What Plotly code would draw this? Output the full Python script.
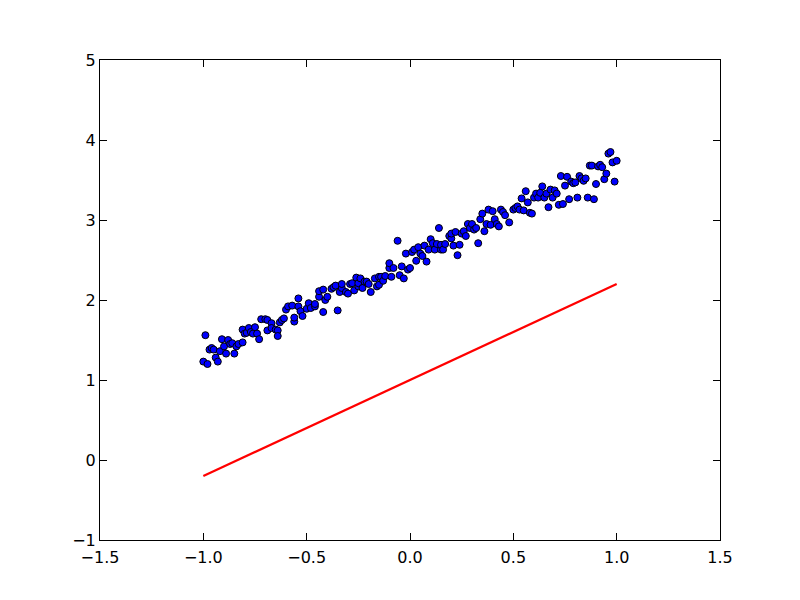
import plotly.graph_objects as go

x_vals = [
    -0.99, -1.00, -0.98, -0.97, -0.96, -0.95, -0.94, -0.93, -0.92, -0.91,
    -0.90, -0.89, -0.88, -0.87, -0.86, -0.85, -0.84, -0.83, -0.81, -0.81,
    -0.80, -0.79, -0.78, -0.77, -0.76, -0.75, -0.74, -0.73, -0.72, -0.70,
    -0.69, -0.69, -0.67, -0.67, -0.65, -0.64, -0.64, -0.63, -0.62, -0.61,
    -0.60, -0.59, -0.57, -0.56, -0.56, -0.54, -0.54, -0.53, -0.52,
    -0.50, -0.49, -0.48, -0.46, -0.46, -0.44, -0.44, -0.42, -0.42, -0.41,
    -0.40, -0.38, -0.37, -0.36, -0.35, -0.34, -0.33, -0.33, -0.31, -0.30,
    -0.29, -0.28, -0.27, -0.26, -0.25, -0.25, -0.24, -0.23, -0.22, -0.21,
    -0.20, -0.19, -0.17, -0.16, -0.15, -0.15, -0.14, -0.13, -0.12, -0.10,
    -0.10, -0.09, -0.08, -0.06, -0.05, -0.04, -0.03, -0.02, -0.01, 0.00,
    0.01, 0.02, 0.03, 0.04, 0.05, 0.06, 0.07, 0.08, 0.09, 0.10,
    0.11, 0.12, 0.13, 0.14, 0.15, 0.15, 0.16, 0.17, 0.19, 0.20,
    0.20, 0.21, 0.22, 0.23, 0.24, 0.25, 0.26, 0.27, 0.28, 0.29,
    0.30, 0.31, 0.32, 0.33, 0.34, 0.35, 0.36, 0.37, 0.38, 0.39,
    0.40, 0.41, 0.42, 0.43, 0.44, 0.45, 0.46, 0.48,
    0.50, 0.51, 0.52, 0.53, 0.54, 0.55, 0.56, 0.57, 0.58, 0.59,
    0.60, 0.61, 0.62, 0.63, 0.64, 0.65, 0.66, 0.67, 0.68, 0.69,
    0.70, 0.71, 0.72, 0.73, 0.74, 0.75, 0.76, 0.77, 0.78, 0.79,
    0.80, 0.81, 0.82, 0.83, 0.84, 0.85, 0.86, 0.87, 0.88, 0.89,
    0.90, 0.91, 0.92, 0.93, 0.94, 0.95, 0.96, 0.97, 0.98, 0.99, 1.00,
]
y_vals = [
    1.56, 1.23, 1.20, 1.38, 1.40, 1.38, 1.28, 1.23, 1.36, 1.51,
    1.42, 1.33, 1.50, 1.45, 1.46, 1.33, 1.42, 1.45, 1.47, 1.63,
    1.58, 1.59, 1.65, 1.60, 1.58, 1.66, 1.58, 1.51, 1.76, 1.76,
    1.62, 1.75, 1.71, 1.65, 1.63, 1.62, 1.55, 1.72, 1.75, 1.77,
    1.88, 1.92, 1.93, 1.73, 1.78, 1.92, 2.02, 1.86, 1.80,
    1.89, 1.96, 1.90, 1.92, 1.95, 2.04, 2.11, 2.13, 1.85, 2.00,
    2.04, 2.14, 2.16, 2.18, 1.87, 2.10, 2.15, 2.20, 2.10, 2.08,
    2.20, 2.21, 2.12, 2.28, 2.17, 2.21, 2.27, 2.15, 2.23, 2.23,
    2.20, 2.10, 2.27, 2.17, 2.19, 2.29, 2.29, 2.24, 2.30, 2.40,
    2.46, 2.29, 2.40, 2.74, 2.31, 2.42, 2.27, 2.58, 2.38, 2.40,
    2.60, 2.63, 2.49, 2.66, 2.58, 2.55, 2.68, 2.48, 2.63, 2.76,
    2.71, 2.63, 2.70, 2.90, 2.63, 2.69, 2.63, 2.70, 2.80, 2.77,
    2.83, 2.68, 2.85, 2.56, 2.69, 2.83, 2.86, 2.80, 2.95, 2.90,
    2.95, 2.88, 2.90, 2.71, 3.01, 3.08, 2.86, 2.95, 3.13, 2.94,
    3.11, 3.01, 2.95, 2.92, 3.13, 3.10, 3.06, 2.97,
    3.13, 3.15, 3.17, 3.13, 3.27, 3.12, 3.36, 3.22, 3.09, 3.08,
    3.28, 3.33, 3.28, 3.34, 3.42, 3.28, 3.33, 3.16, 3.38, 3.28,
    3.37, 3.33, 3.19, 3.55, 3.20, 3.43, 3.54, 3.26, 3.48, 3.46,
    3.47, 3.28, 3.55, 3.52, 3.49, 3.52, 3.28, 3.68, 3.68, 3.26,
    3.45, 3.67, 3.69, 3.66, 3.51, 3.58, 3.83, 3.85, 3.72, 3.48, 3.74,
]

line_x = [-1.0, 1.0]
line_y = [-0.2, 2.2]

x_ticks = [-1.5, -1.0, -0.5, 0.0, 0.5, 1.0, 1.5]
y_ticks = [-1, 0, 1, 2, 3, 4, 5]

fig = go.Figure()
fig.add_trace(go.Scatter(
    x=x_vals, y=y_vals, mode="markers",
    marker=dict(color="#0000ff", size=7, line=dict(color="black", width=1)),
    showlegend=False,
))
fig.add_trace(go.Scatter(
    x=line_x, y=line_y, mode="lines",
    line=dict(color="#ff0000", width=2.2),
    showlegend=False,
))

axis_common = dict(
    showgrid=False, zeroline=False, showline=True, linecolor="black", linewidth=1,
    mirror="ticks", ticks="inside", ticklen=7, tickcolor="black", tickwidth=1,
)
fig.update_xaxes(range=[-1.5, 1.5], tickvals=x_ticks,
                 ticktext=[f"{v:.1f}".replace("-", "\u2212") for v in x_ticks],
                 ticklabelstandoff=3,
                 **axis_common)
fig.update_yaxes(range=[-1, 5], tickvals=y_ticks,
                 ticktext=[str(v).replace("-", "\u2212") for v in y_ticks],
                 **axis_common)
fig.update_layout(
    width=800, height=600,
    margin=dict(l=92, r=88, t=52, b=68),
    paper_bgcolor="white", plot_bgcolor="white",
    font=dict(family="DejaVu Sans", size=16, color="black"),
)
fig.write_html("out.html")
